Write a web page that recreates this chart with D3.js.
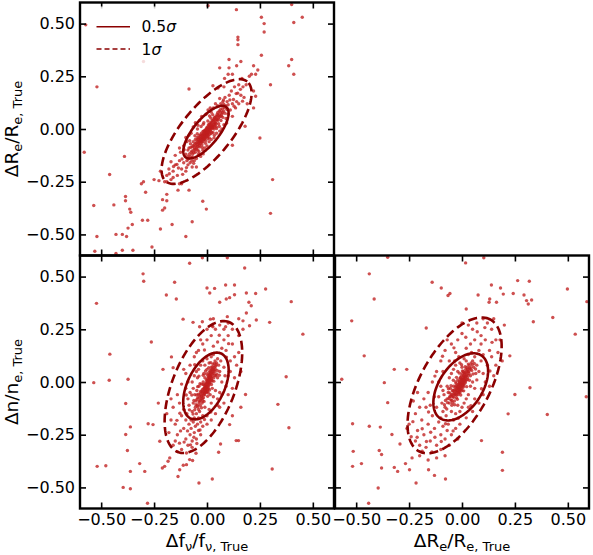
<!DOCTYPE html>
<html>
<head>
<meta charset="utf-8">
<script src="https://d3js.org/d3.v7.min.js"></script>
<style>
body { margin: 0; padding: 0; background: #fff; }
text { font-family: "DejaVu Sans", sans-serif; fill: #000; }
</style>
</head>
<body>
<div id="chart"></div>
<script>
// ---- data ----
var axisDomain = [-0.6, 0.6];
var tickValues = [-0.5, -0.25, 0, 0.25, 0.5];
var tickLabels = ["\u22120.50", "\u22120.25", "0.00", "0.25", "0.50"];
var legendLabels = ["0.5", "1"];

// Δf/f vs ΔRe/Re (top left)
var pointsFR = [
[0.005,0.585],[0.139,0.566],[0.40,0.59],[0.45,0.53],[0.257,0.53],[0.27,0.50],[0.27,0.46],[0.41,0.505],[0.146,0.436],[0.146,0.423],
[0.146,0.40],[0.257,0.35],[0.40,0.33],[0.386,0.30],[0.41,0.26],[0.30,0.21],[-0.52,0.20],[-0.30,0.32],[0.104,0.33],[0.16,0.32],
[0.06,0.29],[0.104,0.29],[0.14,0.30],[0.22,0.30],[0.12,0.26],[0.23,0.26],[0.24,0.28],[0.21,0.26],[-0.085,0.19],[0.028,0.205],
[0.052,0.194],[0.083,0.24],[0.22,0.10],[0.23,0.155],[0.18,0.013],[0.25,-0.043],[0.12,-0.077],[-0.58,-0.11],[-0.39,-0.13],[-0.46,-0.216],
[0.31,-0.24],[-0.085,-0.29],[-0.137,-0.29],[-0.13,-0.26],[-0.19,-0.25],[-0.227,-0.245],[-0.25,-0.24],[-0.30,-0.25],[-0.31,-0.26],[-0.29,-0.30],
[-0.19,-0.31],[-0.21,-0.335],[-0.19,-0.34],[-0.21,-0.385],[-0.2,-0.375],[-0.385,-0.32],[-0.385,-0.34],[-0.365,-0.38],[-0.36,-0.395],[-0.44,-0.36],
[-0.535,-0.363],[-0.02,-0.343],[-0.003,-0.38],[0.30,-0.40],[-0.305,-0.433],[-0.28,-0.433],[-0.22,-0.474],[-0.165,-0.453],[-0.07,-0.44],[-0.353,-0.453],
[-0.373,-0.47],[-0.43,-0.50],[-0.40,-0.50],[-0.38,-0.51],[-0.52,-0.51],[-0.10,-0.51],[-0.26,-0.56],[-0.53,-0.58],[-0.40,-0.575],[-0.35,-0.575],
[-0.43,-0.59],[-0.573,0.494],[0.2,0.25],[0.22,0.18],[-0.22,-0.2],[0.08,0.2],[0.1,0.26],[0.19,0.12],[-0.12,-0.26],[0.165,0.24],
[-0.10,-0.12],[-0.095,-0.15],[-0.09,-0.10],[-0.085,-0.09],[-0.08,-0.13],[-0.078,-0.07],[-0.075,-0.11],[-0.07,-0.085],[-0.068,-0.12],[-0.065,-0.06],
[-0.062,-0.10],[-0.06,-0.075],[-0.058,-0.095],[-0.055,-0.05],[-0.055,-0.11],[-0.052,-0.08],[-0.05,-0.065],[-0.048,-0.09],[-0.046,-0.04],[-0.045,-0.075],
[-0.043,-0.10],[-0.041,-0.058],[-0.04,-0.05],[-0.038,-0.07],[-0.037,-0.03],[-0.035,-0.062],[-0.034,-0.085],[-0.032,-0.045],[-0.03,-0.055],[-0.03,-0.035],
[-0.028,-0.06],[-0.027,-0.02],[-0.025,-0.05],[-0.024,-0.075],[-0.022,-0.04],[-0.021,-0.03],[-0.02,-0.045],[-0.019,-0.025],[-0.018,-0.06],[-0.017,-0.035],
[-0.015,-0.01],[-0.014,-0.05],[-0.013,-0.028],[-0.01,-0.02],[-0.009,-0.04],[-0.008,-0.005],[-0.007,-0.03],[-0.006,-0.055],[-0.005,-0.015],[-0.003,-0.025],
[-0.002,0.005],[0.0,-0.01],[0.001,-0.035],[0.002,0.01],[0.003,-0.02],[0.004,-0.045],[0.005,0.0],[0.006,-0.015],[0.007,0.02],[0.01,-0.005],
[0.011,0.015],[0.012,-0.025],[0.013,0.005],[0.015,0.03],[0.016,-0.01],[0.017,0.01],[0.02,0.0],[0.021,0.025],[0.022,-0.015],[0.024,0.015],
[0.025,0.04],[0.027,0.005],[0.03,0.02],[0.032,0.045],[0.033,0.0],[0.035,0.03],[0.037,0.055],[0.038,0.015],[0.04,0.03],[0.042,0.06],
[0.044,0.01],[0.046,0.045],[0.048,0.07],[0.05,0.04],[0.052,0.065],[0.055,0.025],[0.057,0.055],[0.058,0.085],[0.062,0.06],[0.064,0.08],
[0.066,0.04],[0.07,0.07],[0.072,0.095],[0.075,0.055],[0.078,0.085],[0.082,0.1],[0.085,0.075],[0.088,0.11],[-0.19,-0.22],[-0.17,-0.24],
[-0.18,-0.19],[-0.16,-0.2],[-0.15,-0.17],[-0.14,-0.22],[-0.13,-0.15],[-0.12,-0.19],[-0.125,-0.11],[-0.11,-0.16],[-0.11,-0.08],[-0.1,-0.2],
[-0.095,-0.06],[-0.09,-0.17],[-0.085,-0.03],[-0.08,-0.16],[-0.075,-0.02],[-0.07,-0.18],[-0.065,0.01],[-0.06,-0.15],[-0.055,0.03],[-0.05,-0.14],
[-0.045,0.0],[-0.04,-0.12],[-0.035,0.04],[-0.03,-0.13],[-0.025,0.06],[-0.02,-0.1],[-0.015,0.03],[-0.01,-0.09],[-0.005,0.07],[0.0,-0.08],
[0.005,0.09],[0.01,-0.06],[0.015,0.1],[0.02,-0.05],[0.03,0.1],[0.035,-0.03],[0.04,0.12],[0.045,-0.02],[0.05,0.11],[0.06,-0.01],
[0.065,0.12],[0.07,0.0],[0.075,0.13],[0.08,0.02],[0.085,0.15],[0.09,0.05],[0.095,0.13],[0.1,0.07],[0.105,0.16],[0.11,0.09],
[0.115,0.18],[0.12,0.12],[0.125,0.14],[0.13,0.2],[0.14,0.13],[0.145,0.17],[0.15,0.21],[0.16,0.16],[0.17,0.2],[0.175,0.15],
[0.185,0.21],[-0.2,-0.25],[-0.17,-0.155],[-0.135,-0.185],[-0.115,-0.215],[-0.09,-0.13],[-0.07,-0.135],[0.06,0.145],[0.1,0.115],[0.12,0.06],
[0.135,0.1],[0.15,0.12],[-0.15,-0.125],[-0.13,-0.09],[-0.16,-0.23],[-0.05,-0.18],[0.02,0.08],[-0.1,-0.04],
[-0.083,-0.118],[-0.077,-0.087],[-0.071,-0.104],[-0.066,-0.079],[-0.063,-0.112],[-0.059,-0.088],[-0.054,-0.068],[-0.051,-0.097],[-0.047,-0.052],[-0.044,-0.083],
[-0.042,-0.066],[-0.039,-0.041],[-0.036,-0.078],[-0.033,-0.058],[-0.031,-0.069],[-0.029,-0.028],[-0.026,-0.043],[-0.023,-0.061],[-0.019,-0.012],[-0.016,-0.047],
[-0.012,-0.036],[-0.011,-0.008],[-0.009,-0.027],[-0.006,-0.022],[-0.004,-0.038],[-0.001,-0.017],[0.001,0.002],[0.003,-0.009],[0.006,-0.031],[0.008,0.008],
[0.009,-0.014],[0.012,0.022],[0.014,-0.004],[0.018,0.018],[0.019,-0.022],[0.023,0.032],[0.026,0.012],[0.029,0.038],[0.031,0.008],[0.034,0.052],
[0.036,0.022],[0.041,0.047],[0.043,0.025],[0.047,0.058],[0.051,0.078],[0.054,0.048],[0.059,0.068],[0.063,0.092],[0.068,0.062],[0.073,0.078],
[-0.057,-0.032],[-0.046,-0.022],[-0.028,0.012],[-0.018,0.022],[0.004,0.038],[0.018,0.052],[0.027,0.068],[-0.038,-0.108],[-0.022,-0.088],[-0.007,-0.068],
[0.011,-0.043],[0.029,-0.018],[0.045,0.002],[-0.088,-0.142],[-0.072,-0.152],[0.079,0.118],[0.094,0.092],[-0.005,-0.003],[0.002,-0.027],[-0.014,-0.019],
[0.016,0.002],[-0.024,-0.032],[0.021,0.008],[-0.032,-0.052],[0.039,0.041],[-0.011,-0.046],
[-0.142,-0.168],[-0.118,-0.142],[-0.108,-0.098],[-0.097,-0.183],[-0.082,-0.055],[-0.063,-0.163],[-0.043,0.018],[-0.018,-0.118],[0.012,0.062],[0.033,-0.042],
[0.058,0.012],[0.078,0.138],[0.093,0.028],[0.108,0.138],[0.128,0.108],[0.138,0.168],[0.158,0.188],[0.168,0.132],[-0.158,-0.178],[-0.178,-0.212]
];

// Δf/f vs Δn/n (bottom left)
var pointsFN = [
[-0.082,0.563],[-0.022,0.589],[0.096,0.589],[0.178,0.541],[-0.302,0.513],[-0.299,0.478],[-0.153,0.473],[-0.192,0.413],[-0.145,0.394],[-0.522,0.373],
[0.0,0.446],[0.036,0.444],[0.013,0.422],[0.088,0.46],[0.13,0.46],[0.13,0.414],[0.107,0.40],[0.091,0.394],[0.06,0.378],[0.186,0.422],
[0.23,0.42],[0.277,0.441],[0.198,0.378],[0.209,0.362],[0.186,0.327],[0.398,0.381],[0.453,0.227],[0.296,0.283],[0.233,0.294],[0.201,0.267],
[0.17,0.29],[0.096,0.31],[-0.113,0.298],[-0.066,0.283],[-0.022,0.286],[0.016,0.298],[0.024,0.267],[-0.035,0.262],[-0.263,0.19],[-0.168,0.119],
[-0.208,0.06],[-0.16,0.068],[-0.459,0.132],[-0.462,0.008],[-0.373,0.013],[-0.535,-0.003],[-0.384,-0.102],[-0.278,-0.198],[-0.255,-0.202],[-0.223,-0.281],
[-0.362,-0.213],[-0.384,-0.249],[-0.376,-0.325],[-0.519,-0.40],[-0.478,-0.397],[-0.318,-0.387],[-0.362,-0.424],[-0.294,-0.424],[-0.211,-0.408],[-0.20,-0.40],
[-0.184,-0.376],[-0.176,-0.36],[-0.137,-0.448],[-0.129,-0.416],[-0.097,-0.392],[-0.038,-0.479],[0.025,-0.46],[-0.396,-0.50],[-0.362,-0.506],[-0.281,-0.575],
[0.308,-0.413],[0.335,-0.106],[0.374,0.025],[0.387,-0.217],[0.182,-0.059],[0.138,-0.278],[0.149,-0.278],[0.064,-0.294],[0.055,-0.333],[0.107,-0.202],
[-0.082,-0.368],[-0.097,-0.337],[0.16,-0.12],[0.12,-0.16],[-0.23,-0.1],
[-0.07,-0.14],[-0.065,-0.1],[-0.06,-0.17],[-0.058,-0.06],[-0.055,-0.12],[-0.052,-0.09],[-0.05,-0.15],[-0.048,-0.04],[-0.045,-0.11],[-0.043,-0.075],
[-0.04,-0.13],[-0.038,-0.02],[-0.036,-0.09],[-0.034,-0.06],[-0.032,-0.11],[-0.03,-0.045],[-0.028,-0.08],[-0.026,-0.01],[-0.025,-0.065],[-0.023,-0.1],
[-0.021,-0.035],[-0.02,-0.055],[-0.018,0.0],[-0.017,-0.075],[-0.015,-0.03],[-0.014,-0.045],[-0.012,-0.015],[-0.011,-0.06],[-0.01,0.02],[-0.008,-0.035],
[-0.007,-0.025],[-0.006,-0.05],[-0.005,-0.005],[-0.004,-0.04],[-0.003,0.01],[-0.002,-0.02],[0.0,-0.03],[0.001,0.0],[0.002,-0.045],[0.003,0.015],
[0.004,-0.015],[0.005,0.03],[0.006,-0.005],[0.007,-0.03],[0.008,0.01],[0.009,0.045],[0.01,-0.01],[0.011,0.02],[0.012,0.0],[0.014,0.035],
[0.015,0.055],[0.016,0.01],[0.018,0.03],[0.02,0.07],[0.021,0.015],[0.022,0.045],[0.024,0.025],[0.026,0.06],[0.028,0.085],[0.03,0.04],
[0.032,0.02],[0.034,0.07],[0.036,0.05],[0.038,0.1],[0.04,0.075],[0.042,0.03],[0.045,0.09],[0.048,0.055],[0.05,0.11],[0.055,0.08],
[-0.08,-0.05],[-0.075,-0.18],[-0.07,0.0],[-0.085,-0.11],[-0.09,-0.08],[-0.06,0.03],[-0.05,0.05],[-0.04,0.06],[-0.03,0.08],[-0.02,0.1],
[-0.01,0.08],[0.0,0.11],[0.01,0.09],[0.02,0.12],[0.03,0.13],[0.05,0.02],[0.06,0.05],[0.065,0.1],[0.07,0.0],[0.08,0.07],
[0.04,-0.04],[0.03,-0.07],[0.02,-0.1],[0.01,-0.13],[0.0,-0.16],[-0.01,-0.12],[-0.02,-0.16],[-0.03,-0.19],[-0.04,-0.17],[0.015,-0.06],
[0.025,-0.03],[-0.045,0.02],[-0.065,-0.03],[-0.095,-0.15],[-0.1,-0.03],[0.085,0.03],[0.06,-0.05],[-0.035,-0.14],[0.0,0.06],[-0.015,0.04],
[-0.15,-0.2],[-0.14,-0.25],[-0.13,-0.29],[-0.12,-0.32],[-0.11,-0.22],[-0.1,-0.27],[-0.09,-0.3],[-0.085,-0.2],[-0.08,-0.25],[-0.075,-0.22],
[-0.07,-0.28],[-0.065,-0.19],[-0.06,-0.24],[-0.055,-0.21],[-0.05,-0.27],[-0.045,-0.2],[-0.04,-0.23],[-0.03,-0.25],[-0.02,-0.21],[0.0,-0.2],
[0.02,-0.18],[0.04,-0.15],[0.06,-0.12],[0.08,-0.1],[0.1,-0.06],[0.12,-0.03],[0.13,0.02],[0.14,0.08],[0.13,0.12],[0.12,0.18],
[0.1,0.22],[0.08,0.25],[0.06,0.27],[0.04,0.25],[0.02,0.22],[0.0,0.2],[-0.02,0.18],[-0.04,0.15],[-0.06,0.12],[-0.08,0.08],
[-0.1,0.04],[-0.12,-0.01],[-0.14,-0.06],[-0.16,-0.12],[-0.17,-0.18],[-0.18,-0.24],[-0.13,-0.1],[-0.11,-0.13],[0.09,0.15],[0.11,0.1],
[0.1,0.03],[0.08,0.2],[0.07,0.16],[0.05,0.19],[0.03,0.17],[-0.07,-0.31],[-0.1,-0.18],[-0.12,-0.16],[-0.15,-0.28],[0.1,0.28],
[0.12,0.25],[0.15,0.22],[-0.16,-0.3],[-0.14,-0.33],[-0.09,0.0],[-0.11,0.06],[0.05,-0.08],[0.07,-0.06],[0.09,-0.02],[0.11,0.05],
[-0.17,-0.08],[-0.19,-0.15],[0.15,0.14],[0.16,0.05],[-0.05,0.14],[-0.03,0.2],[0.0,0.25],[0.03,0.3],[0.15,0.3],[0.17,0.25],
[-0.052,-0.108],[-0.047,-0.082],[-0.043,-0.118],[-0.041,-0.058],[-0.037,-0.098],[-0.035,-0.072],[-0.031,-0.088],[-0.029,-0.052],[-0.027,-0.068],[-0.024,-0.042],
[-0.022,-0.078],[-0.019,-0.048],[-0.016,-0.062],[-0.013,-0.032],[-0.012,-0.052],[-0.009,-0.022],[-0.008,-0.042],[-0.006,-0.012],[-0.004,-0.028],[-0.003,-0.048],
[-0.001,-0.008],[0.001,-0.022],[0.002,0.006],[0.004,-0.036],[0.005,-0.002],[0.007,0.022],[0.008,-0.018],[0.009,0.004],[0.011,0.032],[0.013,0.012],
[0.014,-0.004],[0.016,0.042],[0.017,0.022],[0.019,0.052],[0.022,0.008],[0.023,0.062],[0.025,0.038],[0.027,0.072],[0.029,0.052],[0.033,0.058],
[0.035,0.088],[0.039,0.062],[0.043,0.082],[-0.058,-0.132],[-0.062,-0.088],[-0.066,-0.152],[-0.044,-0.022],[-0.033,-0.008],[-0.018,0.032],[-0.007,0.052],
[0.012,-0.038],[0.021,-0.012],[0.032,0.004],[-0.026,-0.122],[-0.014,-0.092],[0.003,-0.068],[0.018,0.092],[0.008,0.068],[-0.038,0.028],[0.046,0.038],
[-0.072,-0.062],[-0.083,-0.132],[0.058,0.032],[-0.002,0.038],[0.006,-0.052],[-0.017,-0.012],[0.015,0.025],[-0.011,-0.028],[0.024,0.005],[-0.02,-0.09],
[0.037,0.032],[-0.049,-0.062],
[-0.125,-0.232],[-0.108,-0.285],[-0.092,-0.232],[-0.078,-0.298],[-0.062,-0.262],[-0.048,-0.292],[-0.033,-0.228],[-0.012,-0.178],[0.018,-0.142],[0.052,-0.112],
[0.092,0.118],[0.102,0.182],[0.088,0.262],[0.058,0.222],[0.028,0.262],[-0.012,0.152],[-0.058,0.082],[-0.098,-0.062],[-0.128,-0.148],[-0.142,-0.182],
[-0.112,-0.395],[-0.068,-0.372],[-0.052,-0.338]
];

// ΔRe/Re vs Δn/n (bottom right)
var pointsRN = [
[-0.351,0.592],[0.017,0.565],[0.103,0.589],[-0.438,0.513],[-0.415,0.394],[-0.141,0.473],[-0.098,0.446],[-0.057,0.42],[-0.066,0.41],[0.076,0.413],
[0.139,0.46],[0.182,0.446],[0.195,0.417],[0.131,0.394],[0.163,0.378],[0.128,0.378],[0.263,0.481],[0.318,0.478],[0.242,0.42],[0.293,0.413],
[0.305,0.386],[0.329,0.389],[0.313,0.37],[0.498,0.441],[0.59,0.381],[0.429,0.306],[0.337,0.286],[0.535,0.227],[0.02,0.346],[-0.169,0.256],
[-0.521,0.29],[-0.462,0.124],[-0.32,0.06],[-0.261,0.06],[-0.367,-0.003],[-0.568,0.013],[-0.351,-0.098],[0.226,0.124],[0.321,-0.027],[0.25,-0.059],
[0.587,-0.07],[0.403,-0.154],[0.218,-0.151],[0.092,-0.278],[0.191,-0.333],[0.191,-0.419],[-0.517,-0.198],[-0.438,-0.21],[-0.386,-0.214],[-0.331,-0.249],
[-0.293,-0.294],[-0.514,-0.329],[-0.475,-0.387],[-0.517,-0.40],[-0.391,-0.325],[-0.38,-0.344],[-0.38,-0.408],[-0.32,-0.405],[-0.304,-0.424],[-0.248,-0.416],
[-0.267,-0.387],[-0.217,-0.479],[-0.396,-0.503],[-0.441,-0.575],[-0.158,-0.416],[-0.13,-0.443],[-0.078,-0.46],[-0.236,-0.36],[-0.2,-0.35],[-0.16,-0.37],
[-0.07,-0.08],[-0.065,-0.05],[-0.06,-0.1],[-0.058,-0.07],[-0.055,-0.03],[-0.052,-0.085],[-0.05,-0.06],[-0.048,-0.11],[-0.045,-0.04],[-0.043,-0.07],
[-0.04,-0.02],[-0.038,-0.055],[-0.036,-0.09],[-0.034,-0.035],[-0.032,-0.06],[-0.03,0.0],[-0.028,-0.045],[-0.026,-0.075],[-0.025,-0.02],[-0.023,-0.05],
[-0.021,-0.03],[-0.02,0.01],[-0.018,-0.06],[-0.017,-0.035],[-0.015,-0.015],[-0.014,-0.045],[-0.012,0.0],[-0.011,-0.025],[-0.01,-0.05],[-0.008,0.02],
[-0.007,-0.01],[-0.006,-0.035],[-0.005,0.005],[-0.004,-0.02],[-0.003,0.03],[-0.002,-0.005],[0.0,-0.04],[0.001,0.015],[0.002,-0.015],[0.003,0.04],
[0.004,0.0],[0.005,-0.025],[0.006,0.02],[0.007,0.05],[0.008,0.005],[0.009,-0.01],[0.01,0.03],[0.012,0.015],[0.014,0.045],[0.015,-0.005],
[0.016,0.025],[0.018,0.06],[0.02,0.01],[0.022,0.035],[0.024,0.07],[0.026,0.02],[0.028,0.05],[0.03,0.085],[0.033,0.04],[0.036,0.065],
[0.04,0.03],[0.043,0.09],[0.046,0.055],[0.05,0.1],[0.055,0.07],[0.06,0.12],[0.065,0.04],[-0.08,-0.12],[-0.085,-0.06],[-0.09,-0.14],
[-0.095,-0.1],[-0.1,-0.17],[-0.075,-0.16],[-0.07,-0.02],[-0.06,0.02],[-0.05,0.04],[-0.04,0.06],[-0.03,0.08],[-0.02,0.05],[-0.01,0.09],
[0.0,0.07],[0.01,0.11],[0.02,0.1],[0.03,0.13],[0.04,-0.02],[0.05,0.0],[0.06,-0.03],[0.07,0.08],[0.08,0.05],[0.09,0.1],
[0.03,-0.06],[0.02,-0.08],[0.01,-0.1],[0.0,-0.12],[-0.01,-0.14],[-0.02,-0.11],[-0.03,-0.15],[-0.04,-0.18],[-0.05,-0.14],[-0.11,-0.07],
[-0.1,-0.02],[0.1,0.04],[0.08,0.15],[-0.065,-0.2],[0.045,0.14],[-0.015,0.12],[0.1,0.13],[-0.09,-0.04],[0.07,0.01],[-0.12,-0.12],
[-0.035,0.1],[-0.25,-0.2],[-0.24,-0.26],[-0.22,-0.15],[-0.21,-0.23],[-0.2,-0.3],[-0.19,-0.18],[-0.18,-0.25],[-0.17,-0.12],[-0.16,-0.2],
[-0.15,-0.28],[-0.14,-0.16],[-0.13,-0.22],[-0.12,-0.3],[-0.11,-0.19],[-0.1,-0.25],[-0.09,-0.21],[-0.08,-0.27],[-0.07,-0.23],[-0.05,-0.25],
[-0.03,-0.22],[-0.01,-0.2],[0.02,-0.17],[0.05,-0.14],[0.08,-0.1],[0.1,-0.06],[0.13,-0.02],[0.15,0.03],[0.16,0.08],[0.17,0.14],
[0.16,0.2],[0.14,0.25],[0.12,0.28],[0.1,0.3],[0.07,0.28],[0.05,0.25],[0.03,0.27],[0.0,0.23],[-0.02,0.2],[-0.05,0.18],
[-0.08,0.15],[-0.1,0.1],[-0.12,0.05],[-0.14,0.0],[-0.16,-0.05],[-0.18,-0.08],[-0.2,-0.12],[-0.13,-0.07],[-0.15,-0.11],[0.11,0.2],
[0.13,0.15],[0.12,0.08],[0.09,0.22],[0.06,0.2],[0.04,0.18],[0.02,0.16],[-0.03,0.14],[-0.06,0.1],[-0.09,0.05],[-0.11,0.0],
[0.09,0.18],[0.14,0.12],[0.11,0.0],[0.06,-0.08],[0.03,-0.12],[-0.02,-0.27],[-0.06,-0.3],[-0.1,-0.32],[-0.17,-0.31],[-0.22,-0.28],
[-0.26,-0.22],[-0.23,-0.09],[-0.21,-0.05],[0.18,0.2],[0.19,0.1],[-0.07,0.2],[0.0,0.28],[0.15,0.3],[0.2,0.27],[-0.12,-0.36],[-0.08,-0.35],
[-0.062,-0.078],[-0.057,-0.052],[-0.053,-0.068],[-0.049,-0.088],[-0.046,-0.062],[-0.042,-0.042],[-0.039,-0.072],[-0.037,-0.048],[-0.033,-0.058],[-0.031,-0.022],
[-0.029,-0.038],[-0.027,-0.062],[-0.024,-0.028],[-0.022,-0.042],[-0.019,-0.012],[-0.016,-0.052],[-0.013,-0.032],[-0.011,-0.008],[-0.009,-0.038],[-0.007,-0.022],
[-0.004,0.012],[-0.003,-0.012],[-0.001,-0.028],[0.002,0.008],[0.003,-0.004],[0.005,0.028],[0.007,0.012],[0.008,-0.018],[0.011,0.038],[0.013,0.022],
[0.016,0.002],[0.017,0.042],[0.019,0.028],[0.023,0.052],[0.025,0.012],[0.027,0.062],[0.031,0.048],[0.034,0.078],[0.038,0.058],[0.042,0.068],
[0.048,0.082],[-0.068,-0.098],[-0.072,-0.128],[-0.078,-0.088],[-0.083,-0.108],[-0.052,-0.018],[-0.041,0.008],[-0.026,0.022],[-0.012,0.042],[0.002,0.052],
[0.015,0.072],[-0.006,-0.062],[0.008,-0.042],[0.022,-0.022],[0.035,0.008],[-0.022,-0.082],[-0.035,-0.108],[0.052,0.038],[-0.014,0.002],[-0.018,-0.022],
[0.004,-0.012],[-0.008,0.018],[0.012,0.008],[-0.028,-0.008],[0.028,0.032],[-0.045,-0.098],[0.058,0.088],[-0.064,-0.032],[0.064,0.062],[-0.002,0.082],
[-0.232,-0.188],[-0.212,-0.262],[-0.188,-0.222],[-0.168,-0.282],[-0.148,-0.238],[-0.128,-0.262],[-0.098,-0.282],[-0.078,-0.198],[-0.042,-0.232],[-0.018,-0.172],
[0.042,-0.112],[0.092,-0.032],[0.132,0.052],[0.142,0.188],[0.108,0.258],[0.072,0.238],[0.018,0.212],[-0.038,0.162],[-0.092,0.122],[-0.128,0.028],
[-0.158,-0.142],[-0.188,-0.328],[-0.142,-0.332]
];

// ellipse parameters per panel (FR, FN, RN): [cx, cy, semi-major, semi-minor, angle deg]
var ellipseHalf = [[-0.005,-0.015,0.153,0.060,51],[-0.005,-0.019,0.170,0.088,65],[-0.006,-0.023,0.178,0.102,57]];
var ellipseOne  = [[-0.002,-0.012,0.305,0.118,51],[-0.017,-0.024,0.331,0.148,68.6],[-0.035,-0.016,0.355,0.165,61.7]];

// axis titles: [text, isSubscript]
var titleF  = [["\u0394f",0],["\u03bd",1],["/f",0],["\u03bd, True",1]];
var titleRe = [["\u0394R",0],["e",1],["/R",0],["e, True",1]];
var titleN  = [["\u0394n/n",0],["e, True",1]];

// ---- layout ----
var W = 254, H = 253;
var ptColor = "#c01f1f", ellColor = "#8b0000";

var svg = d3.select("#chart").append("svg")
	.attr("width", 593)
	.attr("height", 555);

var panels = [
	{pts: pointsFR, k: 0, x0: 80,  y0: 2.5,   xLab: false, yLab: true,  yTitle: titleRe, legend: true},
	{pts: pointsFN, k: 1, x0: 80,  y0: 255.5, xLab: true,  yLab: true,  xTitle: titleF, yTitle: titleN},
	{pts: pointsRN, k: 2, x0: 335, y0: 255.5, xLab: true,  yLab: false, xTitle: titleRe}
];

function addTitle(g, parts, x, y, rotated) {
	var t = g.append("text")
		.attr("text-anchor", "middle")
		.attr("font-size", 18.5);
	if (rotated) t.attr("transform", "translate(" + x + "," + y + ") rotate(-90)");
	else t.attr("x", x).attr("y", y);
	var shift = 0;
	parts.forEach(function(p) {
		var target = p[1] ? 4.5 : 0;
		t.append("tspan")
			.attr("dy", target - shift)
			.attr("font-size", p[1] ? 13 : 18.5)
			.text(p[0]);
		shift = target;
	});
}

function ellipsePath(x, y, e) {
	var th = e[4] * Math.PI / 180;
	var pts = d3.range(0, 360, 3).map(function(deg) {
		var t = deg * Math.PI / 180;
		return [e[0] + e[2] * Math.cos(th) * Math.cos(t) - e[3] * Math.sin(th) * Math.sin(t),
		        e[1] + e[2] * Math.sin(th) * Math.cos(t) + e[3] * Math.cos(th) * Math.sin(t)];
	});
	return d3.line().x(function(d) { return x(d[0]); }).y(function(d) { return y(d[1]); })
		.curve(d3.curveLinearClosed)(pts);
}

function fmt(d) { return tickLabels[tickValues.indexOf(d)]; }

panels.forEach(function(p, i) {
	var x = d3.scaleLinear().domain(axisDomain).range([0, W]);
	var y = d3.scaleLinear().domain(axisDomain).range([H, 0]);
	var g = svg.append("g").attr("transform", "translate(" + p.x0 + "," + p.y0 + ")");

	g.append("clipPath").attr("id", "clip" + i)
		.append("rect").attr("width", W).attr("height", H);

	var plot = g.append("g").attr("clip-path", "url(#clip" + i + ")");

	plot.selectAll("circle").data(p.pts).enter().append("circle")
		.attr("cx", function(d) { return x(d[0]); })
		.attr("cy", function(d) { return y(d[1]); })
		.attr("r", 1.7)
		.attr("fill", ptColor)
		.attr("fill-opacity", 0.78);

	plot.append("path")
		.attr("d", ellipsePath(x, y, ellipseOne[p.k]))
		.attr("fill", "none").attr("stroke", ellColor)
		.attr("stroke-width", 2.6).attr("stroke-dasharray", "9,4.5");
	plot.append("path")
		.attr("d", ellipsePath(x, y, ellipseHalf[p.k]))
		.attr("fill", "none").attr("stroke", ellColor)
		.attr("stroke-width", 2.6);

	// ticks on every side, pointing in
	var axes = [
		[d3.axisBottom(x), "translate(0," + H + ")", p.xLab, 5],
		[d3.axisTop(x), "translate(0,0)", false, 5],
		[d3.axisLeft(y), "translate(0,0)", p.yLab, 5],
		[d3.axisRight(y), "translate(" + W + ",0)", false, 5]
	];
	axes.forEach(function(a) {
		var ax = a[0].tickValues(tickValues).tickSize(-6).tickSizeOuter(0)
			.tickPadding(a[3])
			.tickFormat(a[2] ? fmt : "");
		var ag = g.append("g").attr("transform", a[1]).call(ax);
		ag.select(".domain").remove();
		ag.selectAll(".tick line").attr("stroke", "#000").attr("stroke-width", 1.6);
		ag.selectAll(".tick text").attr("font-size", 16).attr("fill", "#000")
			.style("font-family", "DejaVu Sans, sans-serif");
	});

	g.append("rect").attr("width", W).attr("height", H)
		.attr("fill", "none").attr("stroke", "#000").attr("stroke-width", 2.4);

	if (p.xTitle) addTitle(svg, p.xTitle, p.x0 + W / 2, 546.5, false);
	if (p.yTitle) addTitle(svg, p.yTitle, 17.5, p.y0 + H / 2, true);

	if (p.legend) {
		var lg = g.append("g");
		lg.append("rect").attr("x", 8).attr("y", 4).attr("width", 98).attr("height", 58)
			.attr("fill", "#fff").attr("fill-opacity", 0.8);
		legendLabels.forEach(function(l, j) {
			var ly = 24.2 + j * 22.3;
			lg.append("line").attr("x1", 16.5).attr("x2", 50).attr("y1", ly).attr("y2", ly)
				.attr("stroke", ellColor).attr("stroke-width", 1.6)
				.attr("stroke-dasharray", j ? "5,3" : null);
			var t = lg.append("text").attr("x", 61.5).attr("y", ly + 5.5).attr("font-size", 15.5);
			t.append("tspan").text(l);
			t.append("tspan").attr("font-style", "italic").text("\u03c3");
		});
	}
});
</script>
</body>
</html>
